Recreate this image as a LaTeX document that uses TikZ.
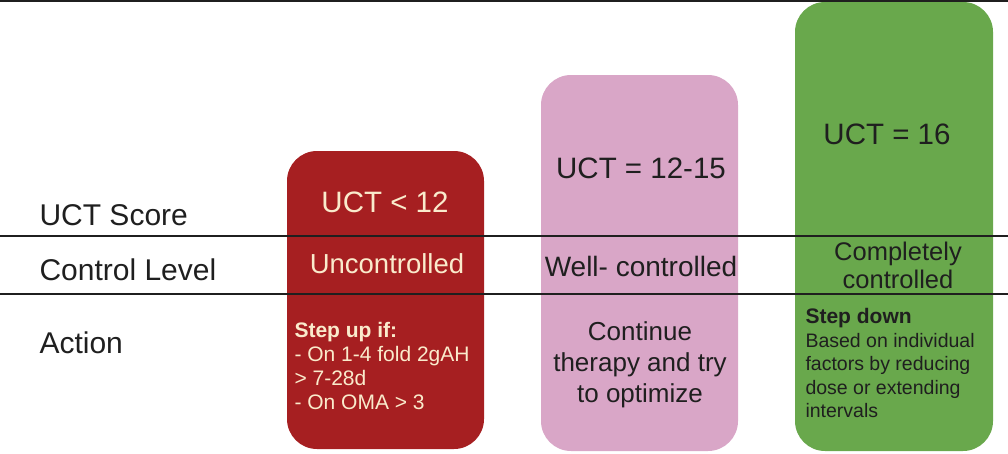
\documentclass[tikz,border=0pt]{standalone}
\usepackage{fontspec}
\setmainfont{Liberation Sans}
\definecolor{rrqqqq}{rgb}{0.65,0.12,0.13}
\definecolor{ppaacc}{rgb}{0.85,0.65,0.78}
\definecolor{ggaaqq}{rgb}{0.41,0.66,0.30}
\definecolor{ffeecc}{rgb}{0.98,0.92,0.80}
\definecolor{zzzzzz}{rgb}{0.12,0.12,0.12}
\begin{document}
\begin{tikzpicture}[line cap=round,line join=round,x=1pt,y=-1pt]
\useasboundingbox (0,0) rectangle (1008,453);
\draw [color=zzzzzz,line width=2pt] (0,0.5)-- (1008,0.5);
\fill [color=rrqqqq,rounded corners=30pt] (287,151) rectangle (484,449);
\fill [color=ppaacc,rounded corners=30pt] (541,75) rectangle (738,451);
\fill [color=ggaaqq,rounded corners=30pt] (795,2) rectangle (993,451);
\draw [color=zzzzzz,line width=1.5pt] (0,236)-- (1008,236);
\draw [color=zzzzzz,line width=1.5pt] (0,294)-- (1008,294);
% row labels
\begin{scope}[every node/.style={font=\fontsize{30}{36}\selectfont,color=zzzzzz,anchor=west}]
\node (score) at (36,215) {UCT Score};
\node (level) at (36,270) {Control Level};
\node (action) at (36,343) {Action};
\end{scope}
% scores and levels
\begin{scope}[every node/.style={font=\fontsize{29.5}{34}\selectfont,color=zzzzzz}]
\node[color=ffeecc] (lowscore) at (385,202) {UCT < 12};
\node (midscore) at (641,168) {UCT = 12-15};
\node (topscore) at (887,134) {UCT = 16};
\end{scope}
\begin{scope}[every node/.style={color=zzzzzz,align=center}]
\node[color=ffeecc,font=\fontsize{27.5}{31}\selectfont] (lowlevel) at (387,264) {Uncontrolled};
\node[font=\fontsize{28}{31}\selectfont] (midlevel) at (641,266) {Well- controlled};
\node[font=\fontsize{25.5}{28}\selectfont] (toplevel) at (898,265) {Completely\\controlled};
\node[font=\fontsize{26}{31}\selectfont] (midaction) at (640,365) {Continue\\therapy and try\\to optimize};
\end{scope}
% actions
\node[font=\fontsize{21}{24}\selectfont,color=ffeecc,align=left,anchor=north west] (lowaction) at (291,319) {\textbf{Step up if:}\\- On 1-4 fold 2gAH\\> 7-28d\\- On OMA > 3};
\node[font=\fontsize{19.5}{23.5}\selectfont,color=zzzzzz,align=left,anchor=north west] (topaction) at (802,305) {{\fontsize{21}{26}\selectfont\textbf{Step down}}\\Based on individual\\factors by reducing\\dose or extending\\intervals};
\end{tikzpicture}
\end{document}
